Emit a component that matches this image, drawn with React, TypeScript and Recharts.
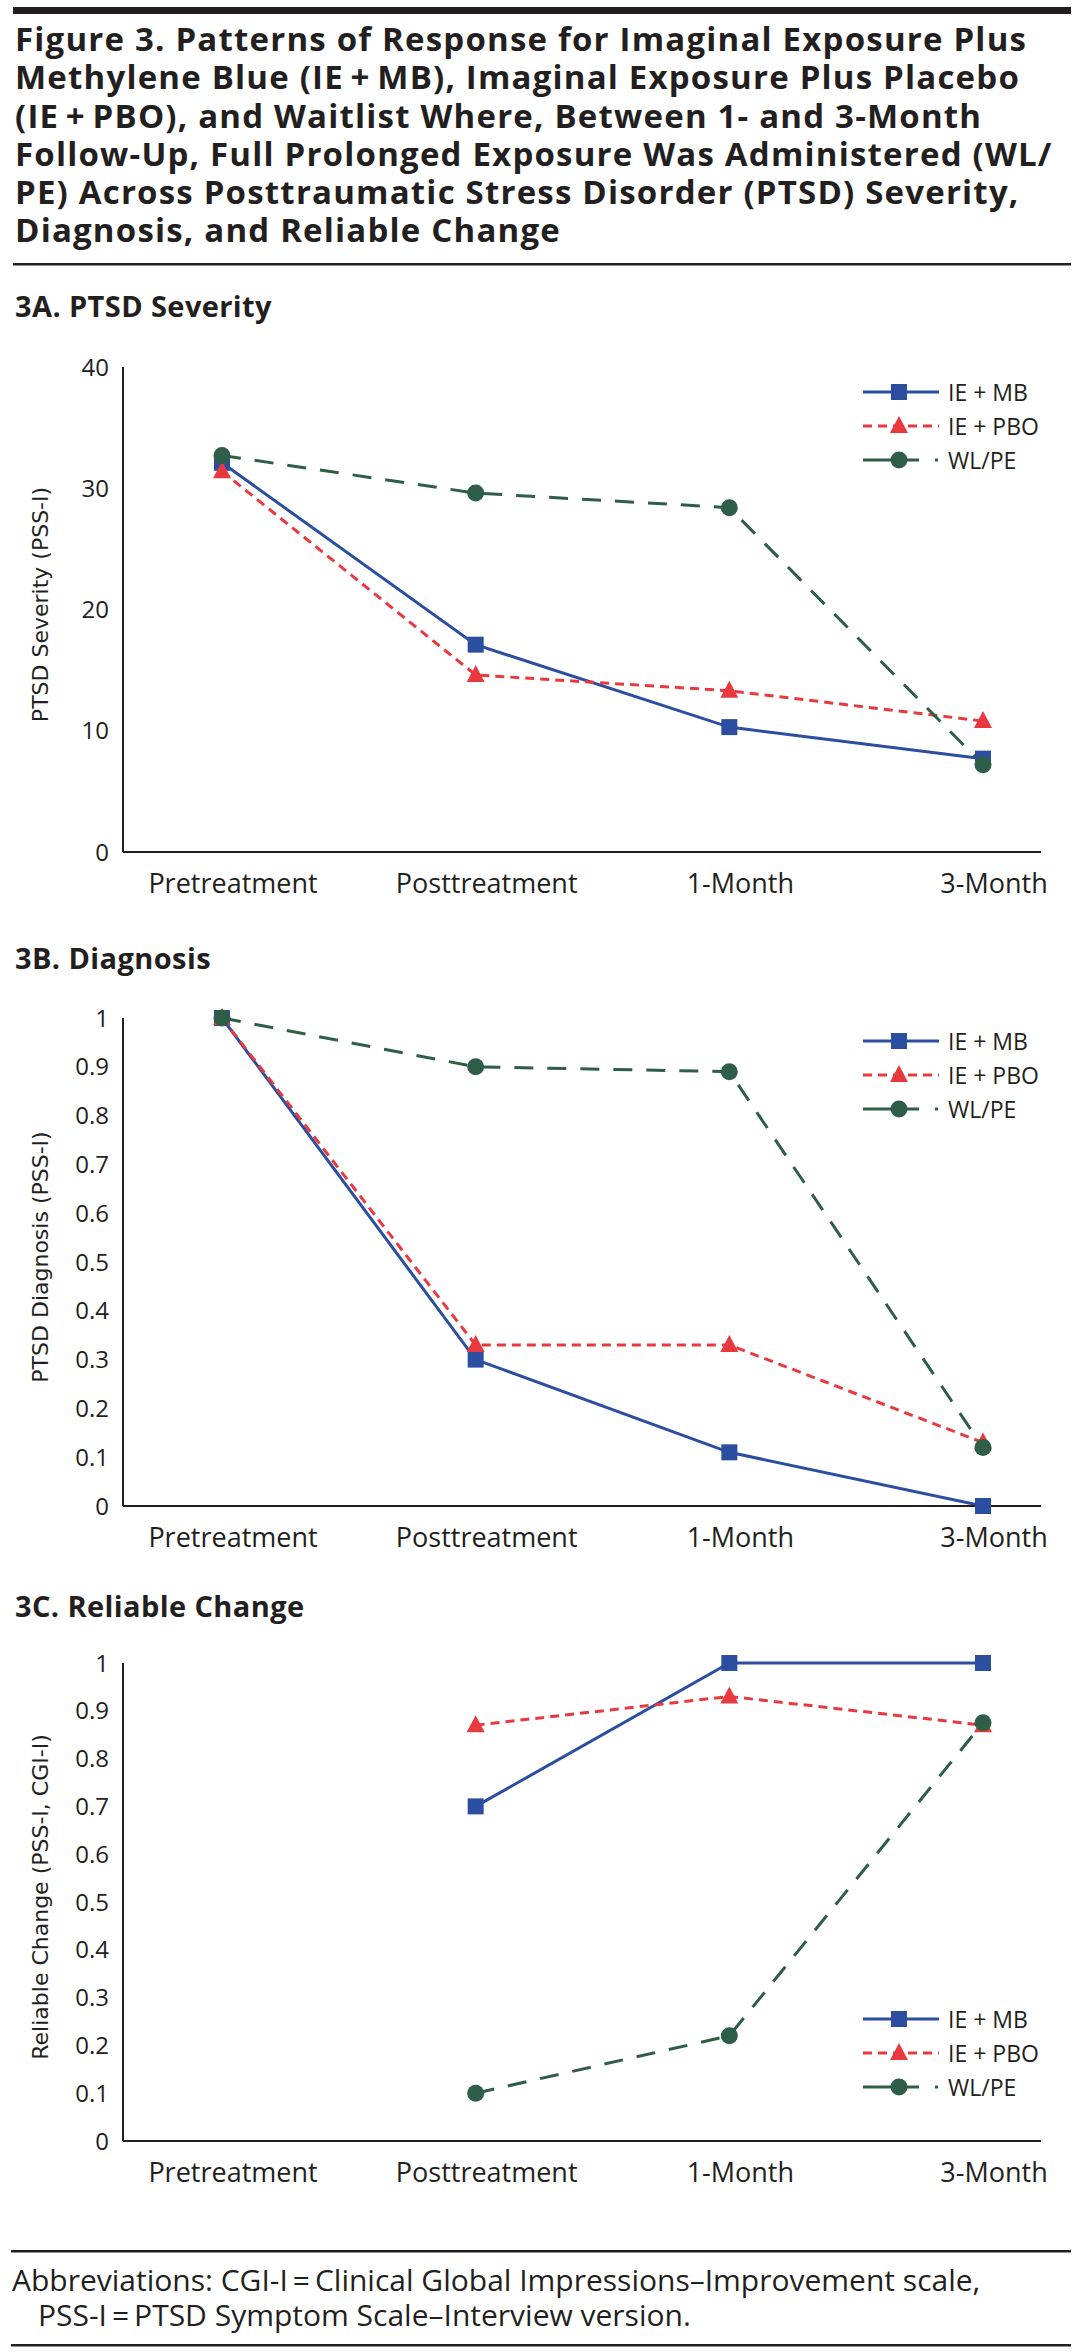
import React from 'react';
import { LineChart, Line, XAxis, YAxis, Legend } from 'recharts';

const categories = ['Pretreatment', 'Posttreatment', '1-Month', '3-Month'];
const seriesNames = ['IE + MB', 'IE + PBO', 'WL/PE'];

const severityMB = [32.1, 17.1, 10.3, 7.7];
const severityPBO = [31.4, 14.6, 13.3, 10.8];
const severityWL = [32.7, 29.6, 28.4, 7.2];

const diagnosisMB = [1, 0.3, 0.11, 0];
const diagnosisPBO = [1, 0.33, 0.33, 0.13];
const diagnosisWL = [1, 0.9, 0.89, 0.12];

const changeMB = [null, 0.7, 1, 1];
const changePBO = [null, 0.87, 0.93, 0.87];
const changeWL = [null, 0.1, 0.22, 0.875];

const severityTicks = [0, 10, 20, 30, 40];
const proportionTicks = [0, 0.1, 0.2, 0.3, 0.4, 0.5, 0.6, 0.7, 0.8, 0.9, 1];

const titleLines = [
  'Figure 3. Patterns of Response for Imaginal Exposure Plus',
  'Methylene Blue (IE\u2009+\u2009MB), Imaginal Exposure Plus Placebo',
  '(IE\u2009+\u2009PBO), and Waitlist Where, Between 1- and 3-Month',
  'Follow-Up, Full Prolonged Exposure Was Administered (WL/',
  'PE) Across Posttraumatic Stress Disorder (PTSD) Severity,',
  'Diagnosis, and Reliable Change',
];
const panelTitles = ['3A. PTSD Severity', '3B. Diagnosis', '3C. Reliable Change'];
const yLabels = ['PTSD Severity (PSS-I)', 'PTSD Diagnosis (PSS-I)', 'Reliable Change (PSS-I, CGI-I)'];
const footnoteLines = [
  'Abbreviations: CGI-I\u2009=\u2009Clinical Global Impressions\u2013Improvement scale,',
  'PSS-I\u2009=\u2009PTSD Symptom Scale\u2013Interview version.',
];

const BLUE = '#2b4ea0';
const RED = '#e8393f';
const GREEN = '#2e5e47';
const INK = '#231f20';
const SANS = '"Open Sans", "Noto Sans", sans-serif';
const LABEL_FONT = '"DejaVu Sans", Verdana, sans-serif';

const buildRows = (mb: (number | null)[], pbo: (number | null)[], wl: (number | null)[]) =>
  categories.map((c, i) => ({ category: c, mb: mb[i], pbo: pbo[i], wl: wl[i] }));

const severityData = buildRows(severityMB, severityPBO, severityWL);
const diagnosisData = buildRows(diagnosisMB, diagnosisPBO, diagnosisWL);
const changeData = buildRows(changeMB, changePBO, changeWL);

const RED_DASH = '9 6';
const GREEN_DASH = '19 14';

const SquareDot = (props: any) => {
  const { cx, cy, index } = props;
  if (cx == null || cy == null || props.value == null) return <g key={`sq-${index}`} />;
  return <rect key={`sq-${index}`} x={cx - 8} y={cy - 8} width={16} height={16} fill={BLUE} />;
};
const TriangleDot = (props: any) => {
  const { cx, cy, index } = props;
  if (cx == null || cy == null || props.value == null) return <g key={`tr-${index}`} />;
  return (
    <polygon
      key={`tr-${index}`}
      points={`${cx},${cy - 10} ${cx + 9},${cy + 7} ${cx - 9},${cy + 7}`}
      fill={RED}
    />
  );
};
const CircleDot = (props: any) => {
  const { cx, cy, index } = props;
  if (cx == null || cy == null || props.value == null) return <g key={`ci-${index}`} />;
  return <circle key={`ci-${index}`} cx={cx} cy={cy} r={8.5} fill={GREEN} />;
};

const LegendBox = () => {
  const rowGap = 34;
  const rows = [
    { name: seriesNames[0], color: BLUE, dash: undefined as string | undefined, marker: 'square' },
    { name: seriesNames[1], color: RED, dash: '9 6', marker: 'triangle' },
    { name: seriesNames[2], color: GREEN, dash: '56 16 3 100', marker: 'circle' },
  ];
  return (
    <svg width={220} height={110} style={{ display: 'block', overflow: 'visible' }}>
      {rows.map((r, i) => {
        const cy = 13 + i * rowGap;
        const mx = 36;
        return (
          <g key={r.name}>
            <line x1={0} x2={76} y1={cy} y2={cy} stroke={r.color} strokeWidth={3} strokeDasharray={r.dash} />
            {r.marker === 'square' && <rect x={mx - 8} y={cy - 8} width={16} height={16} fill={r.color} />}
            {r.marker === 'triangle' && (
              <polygon points={`${mx},${cy - 10} ${mx + 9},${cy + 7} ${mx - 9},${cy + 7}`} fill={r.color} />
            )}
            {r.marker === 'circle' && <circle cx={mx} cy={cy} r={8.5} fill={r.color} />}
            <text x={85} y={cy + 8.5} fontFamily={SANS} fontSize={23} fill={INK}>
              {r.name}
            </text>
          </g>
        );
      })}
    </svg>
  );
};

const CategoryTick = (props: any) => {
  const { x, y, payload } = props;
  return (
    <text x={x + 11} y={y} dy="0.71em" textAnchor="middle" fontFamily={SANS} fontSize={27} fill={INK}>
      {payload.value}
    </text>
  );
};

const YAxisTitle = (props: any) => {
  const { viewBox, text } = props;
  if (!viewBox) return null;
  const x = viewBox.x + 40;
  const y = viewBox.y + viewBox.height / 2 - 5;
  return (
    <text
      x={x}
      y={y}
      transform={`rotate(-90 ${x} ${y})`}
      textAnchor="middle"
      dominantBaseline="central"
      fontFamily={LABEL_FONT}
      fontSize={22}
      fill={INK}
    >
      {text}
    </text>
  );
};

type PanelProps = {
  data: any[];
  ticks: number[];
  domain: [number, number];
  yLabel: string;
  containerTop: number;
  plotTop: number;
  plotBottom: number;
  legendTop: number;
};

const Panel = ({ data, ticks, domain, yLabel, containerTop, plotTop, plotBottom, legendTop }: PanelProps) => {
  const xAxisHeight = 70;
  const height = plotBottom - containerTop + xAxisHeight + 10;
  return (
    <div style={{ position: 'absolute', left: 0, top: containerTop, width: 1081, height }}>
      <LineChart
        width={1081}
        height={height}
        data={data}
        margin={{ top: plotTop - containerTop, right: 40, bottom: 10, left: 0 }}
      >
        <XAxis
          dataKey="category"
          type="category"
          padding={{ left: 99, right: 58 }}
          tickLine={false}
          axisLine={{ stroke: INK, strokeWidth: 2 }}
          tick={<CategoryTick />}
          tickSize={6}
          tickMargin={16}
          interval={0}
          height={xAxisHeight}
        />
        <YAxis
          type="number"
          domain={domain}
          ticks={ticks}
          interval={0}
          width={123}
          tickLine={false}
          axisLine={{ stroke: INK, strokeWidth: 2 }}
          tickSize={6}
          tickMargin={8}
          tick={{ fill: INK, fontSize: 24, fontFamily: SANS }}
          label={<YAxisTitle text={yLabel} />}
        />
        <Legend
          layout="vertical"
          align="center"
          verticalAlign="middle"
          content={() => <LegendBox />}
          wrapperStyle={{ position: 'absolute', top: legendTop, left: 863, width: 220, height: 110, right: 'auto', bottom: 'auto' }}
        />
        <Line
          dataKey="mb"
          name={seriesNames[0]}
          stroke={BLUE}
          strokeWidth={3}
          dot={SquareDot}
          activeDot={false}
          isAnimationActive={false}
          connectNulls={false}
        />
        <Line
          dataKey="pbo"
          name={seriesNames[1]}
          stroke={RED}
          strokeWidth={3}
          strokeDasharray={RED_DASH}
          dot={TriangleDot}
          activeDot={false}
          isAnimationActive={false}
          connectNulls={false}
        />
        <Line
          dataKey="wl"
          name={seriesNames[2]}
          stroke={GREEN}
          strokeWidth={3}
          strokeDasharray={GREEN_DASH}
          dot={CircleDot}
          activeDot={false}
          isAnimationActive={false}
          connectNulls={false}
        />
      </LineChart>
    </div>
  );
};

export default function App() {
  return (
    <div style={{ position: 'absolute', left: 0, top: 0, width: 1081, height: 2352, background: '#fff', overflow: 'hidden' }}>
      <svg width={1081} height={2352} style={{ position: 'absolute', left: 0, top: 0 }}>
        <rect x={13} y={7} width={1058} height={7} fill={INK} />
        <rect x={13} y={263} width={1058} height={2.5} fill={INK} />
        <text x={15} y={317} fontFamily={SANS} fontWeight={700} fontSize={29} letterSpacing={0.4} fill={INK}>{panelTitles[0]}</text>
        <text x={15} y={969} fontFamily={SANS} fontWeight={700} fontSize={29} letterSpacing={0.4} fill={INK}>{panelTitles[1]}</text>
        <text x={15} y={1617} fontFamily={SANS} fontWeight={700} fontSize={29} letterSpacing={0.4} fill={INK}>{panelTitles[2]}</text>
        <rect x={11} y={2250} width={1060} height={2.5} fill={INK} />
        <rect x={11} y={2344} width={1060} height={2.5} fill={INK} />
      </svg>
      <div
        style={{
          position: 'absolute',
          left: 15,
          top: 20,
          width: 1066,
          fontFamily: SANS,
          fontWeight: 700,
          fontSize: 33,
          letterSpacing: 1.2,
          lineHeight: '38.3px',
          color: INK,
          whiteSpace: 'nowrap',
        }}
      >
        {titleLines.map((t, i) => (
          <React.Fragment key={i}>
            {t}
            {i < titleLines.length - 1 && <br />}
          </React.Fragment>
        ))}
      </div>
      <div
        style={{
          position: 'absolute',
          left: 12,
          top: 2262,
          width: 1069,
          fontFamily: SANS,
          fontSize: 30,
          lineHeight: '35px',
          color: INK,
          whiteSpace: 'nowrap',
        }}
      >
        {footnoteLines[0]}
        <br />
        <span style={{ paddingLeft: 26 }}>{footnoteLines[1]}</span>
      </div>
      <Panel
        data={severityData}
        ticks={severityTicks}
        domain={[0, 40]}
        yLabel={yLabels[0]}
        containerTop={340}
        plotTop={367}
        plotBottom={852}
        legendTop={39}
      />
      <Panel
        data={diagnosisData}
        ticks={proportionTicks}
        domain={[0, 1]}
        yLabel={yLabels[1]}
        containerTop={990}
        plotTop={1018}
        plotBottom={1506}
        legendTop={38}
      />
      <Panel
        data={changeData}
        ticks={proportionTicks}
        domain={[0, 1]}
        yLabel={yLabels[2]}
        containerTop={1635}
        plotTop={1663}
        plotBottom={2141}
        legendTop={371}
      />
    </div>
  );
}
